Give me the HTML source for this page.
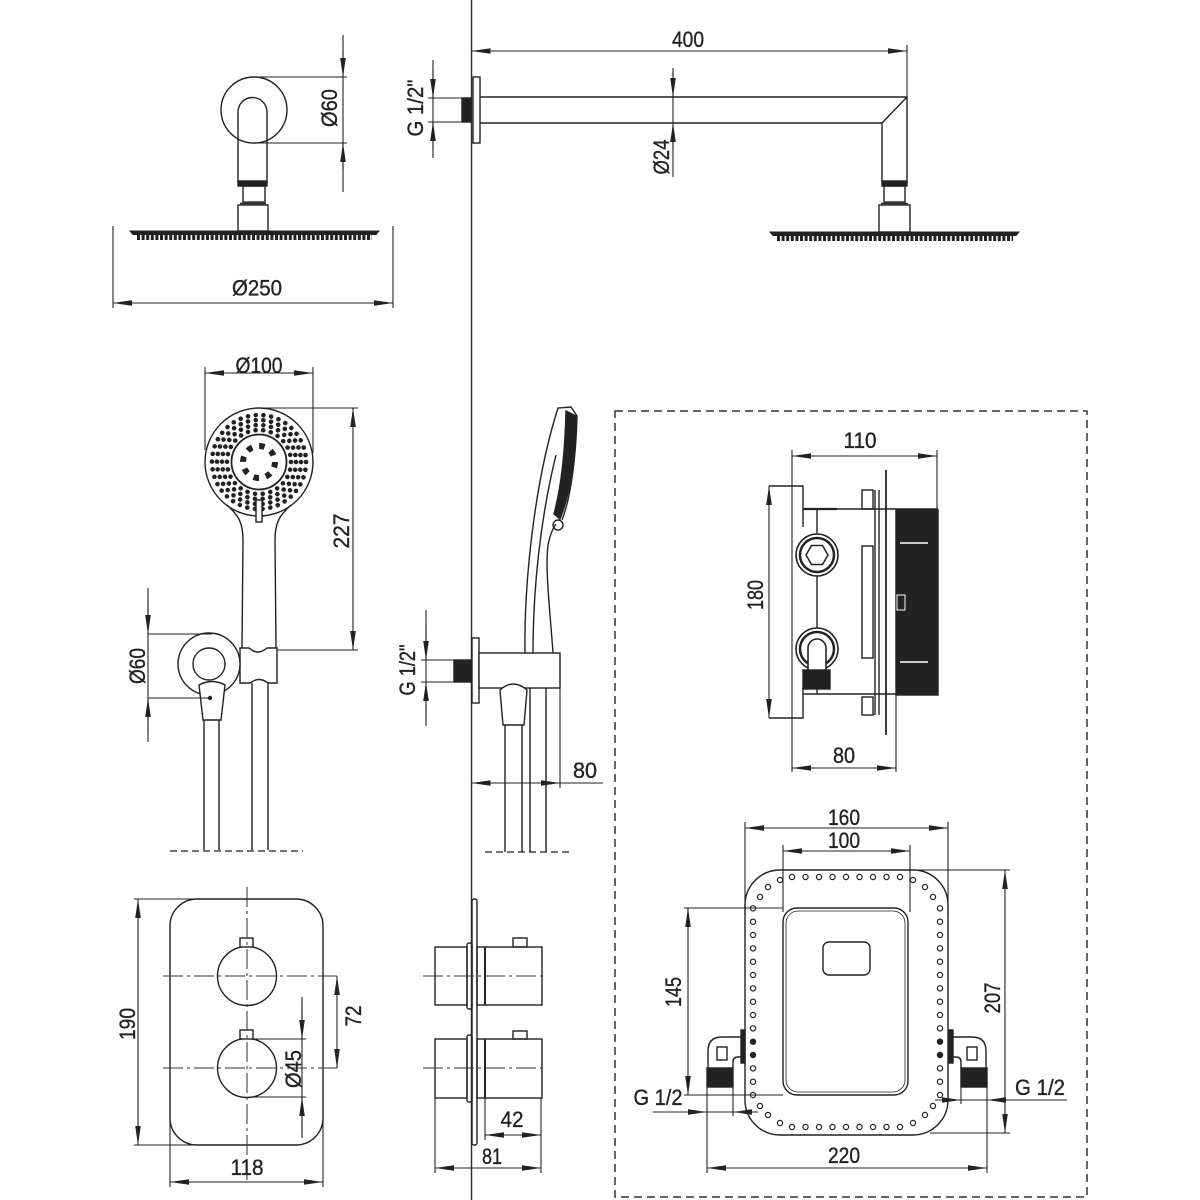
<!DOCTYPE html>
<html><head><meta charset="utf-8"><style>
html,body{margin:0;padding:0;background:#fff;}
svg{display:block}
text{font-family:"Liberation Sans Narrow","Liberation Sans",sans-serif;font-size:22px;fill:#222;stroke:#222;stroke-width:0.35px;}
</style></head><body>
<svg width="1200" height="1200" viewBox="0 0 1200 1200" xmlns="http://www.w3.org/2000/svg">
<defs>
<marker id="a" viewBox="-19 -3 19 6" refX="0" refY="0" markerWidth="19" markerHeight="6" markerUnits="userSpaceOnUse" orient="auto-start-reverse"><path d="M0,0 L-19,-2.8 L-19,2.8 Z" fill="#222"/></marker>
</defs>
<rect width="1200" height="1200" fill="#fff"/>

<!-- wall line -->
<line x1="471.5" y1="0" x2="471.5" y2="1200" stroke="#333" stroke-width="1.5"/>

<!-- dashed box -->
<rect x="615" y="411" width="472" height="786" fill="none" stroke="#333" stroke-width="1.5" stroke-dasharray="8 5"/>

<g fill="none" stroke="#222" stroke-width="1.4">
<!-- ===== top-left rain shower front ===== -->
<circle cx="254" cy="110" r="33"/>
<path d="M238,183 V112 A14.5,14.5 0 0 1 267,112 V183"/>
<rect x="238" y="181" width="29" height="5" fill="#222"/>
<rect x="243" y="186" width="22" height="16"/>
<line x1="240" y1="203.5" x2="266" y2="203.5"/>
<rect x="238" y="205" width="30" height="26"/>
<path d="M130,231 L379,231 L376,234.5 L133,234.5 Z" fill="#222" stroke-width="1"/>
<line x1="137" y1="237.5" x2="372" y2="237.5" stroke-width="5" stroke-dasharray="3 1.6"/>

<!-- ===== top-right rain shower side ===== -->
<rect x="473" y="77" width="7" height="66"/>
<rect x="462" y="98" width="9" height="24" fill="#222"/>
<path d="M480,97 H907 V183 M480,123 H882 L907,97 M882,123 V183"/>
<rect x="882" y="181" width="25" height="5" fill="#222"/>
<rect x="884" y="186" width="21" height="16"/>
<line x1="881" y1="203.5" x2="908" y2="203.5"/>
<rect x="879" y="205" width="31" height="27"/>
<path d="M770,232 L1019,232 L1016,235.5 L773,235.5 Z" fill="#222" stroke-width="1"/>
<line x1="777" y1="238.5" x2="1013" y2="238.5" stroke-width="5" stroke-dasharray="3 1.6"/>

<!-- ===== hand shower front ===== -->
<circle cx="259" cy="462" r="54"/>
<circle cx="259" cy="462" r="47" stroke-width="4.6" stroke-linecap="round" stroke-dasharray="0.01 7.77"/>
<circle cx="259" cy="462" r="42" stroke-width="4.6" stroke-linecap="round" stroke-dasharray="0.01 7.76"/>
<circle cx="259" cy="462" r="37" stroke-width="4.6" stroke-linecap="round" stroke-dasharray="0.01 7.75"/>
<circle cx="259" cy="462" r="32" stroke-width="4.6" stroke-linecap="round" stroke-dasharray="0.01 7.73"/>
<circle cx="259" cy="462" r="27.5" stroke-width="1.8"/>
<circle cx="259" cy="462" r="16" stroke-width="6" stroke-dasharray="5.5 7.07"/>
<path d="M227,505 C238,515 243,522 243,540 L242,648"/>
<path d="M291,505 C280,515 275,522 275,540 L276,648"/>
<rect x="256" y="500" width="6" height="22" fill="#fff"/>
<path d="M240,648 H249 Q258,656 267,648 H277 V683 H268 Q259,676 250,683 H240 Z" fill="#fff"/>
<circle cx="209" cy="664" r="31" fill="#fff"/>
<circle cx="209" cy="664" r="16"/>
<path d="M199,685 Q212,678 225,685 L221,720 H203 Z" fill="#fff"/>
<circle cx="210" cy="698" r="1.5" fill="#222"/>
<path d="M204,720 V850 M219,720 V850 M252,683 V850 M268,683 V850"/>
<line x1="170" y1="851" x2="303" y2="851" stroke-width="1.3" stroke-dasharray="7 4"/>
<rect x="454" y="660" width="18" height="22" fill="#222"/>

<!-- ===== hand shower side ===== -->
<path d="M525,653 C524,580 535,480 558,408 L571,407 L577,416 C576,460 570,500 562,520"/>
<path d="M533,653 C533,590 540,520 556,455"/>
<path d="M553,653 C550,610 545,570 548,545 C550,535 553,528 556,524"/>
<path d="M566,411 L576,416 C575,460 570,495 560,519 L554,514 C561,488 565,455 566,411 Z" fill="#222"/>
<circle cx="558" cy="525" r="5"/>
<rect x="472" y="638" width="7" height="65" fill="#fff"/>
<rect x="479" y="653" width="81" height="35" fill="#fff"/>
<path d="M500,690 Q513,678 527,690 L524,725 H503 Z" fill="#fff"/>
<path d="M505,725 V852 M522,725 V852 M530,688 V852 M546,688 V852"/>
<line x1="485" y1="852" x2="570" y2="852" stroke-width="1.3" stroke-dasharray="7 4"/>

<!-- ===== mixing box side ===== -->
<path d="M769,486 H803 V527 M769,718 H803 V687"/>
<line x1="803" y1="509" x2="837" y2="509" stroke-width="2.2"/>
<line x1="837" y1="509" x2="938" y2="509"/>
<line x1="803" y1="694" x2="938" y2="694"/>
<line x1="817" y1="509" x2="817" y2="694"/>
<circle cx="817" cy="555" r="21" fill="#fff" stroke-width="1.6"/>
<circle cx="817" cy="555" r="17" stroke-width="2.5"/>
<polygon points="828,555 822.5,564.5 811.5,564.5 806,555 811.5,545.5 822.5,545.5" stroke-width="1.5"/>
<circle cx="817" cy="649" r="21" fill="#fff" stroke-width="1.6"/>
<circle cx="817" cy="649" r="17" stroke-width="2.5"/>
<path d="M808,672 V648 A9,9 0 0 1 826,648 V672" fill="#fff" stroke-width="1.6"/>
<rect x="803" y="670" width="27" height="19" fill="#222"/>
<rect x="862" y="546" width="11" height="112"/>
<rect x="862" y="490" width="11" height="19"/>
<rect x="862" y="697" width="11" height="18"/>
<path d="M875,490 V715 M879,490 V715"/>
<line x1="886" y1="470" x2="886" y2="735" stroke-width="1.8"/>
<rect x="896" y="510" width="42" height="185" fill="#222"/>
<path d="M900,543 H928 M900,662 H928" stroke="#fff" stroke-width="1.5"/>
<rect x="897" y="595" width="8" height="15" stroke="#fff" stroke-width="1"/>

<!-- ===== mixing box front ===== -->
<rect x="745" y="870" width="203" height="265" rx="35"/>
<rect x="783" y="908" width="125" height="187" rx="14" fill="#fff"/>
<rect x="786" y="911" width="119" height="181" rx="12" stroke-width="0.8"/>
<rect x="823" y="942" width="47" height="33" rx="6"/>
<path d="M743,1037 H722 Q708,1037 708,1051 V1068 M733,1068 V1062 Q733,1057 738,1057 H743"/>
<rect x="707" y="1068" width="26" height="19" fill="#222"/>
<rect x="717" y="1047" width="10" height="13"/>
<rect x="741" y="1030" width="4" height="33" fill="#222"/>
<path d="M951,1037 H972 Q986,1037 986,1051 V1068 M961,1068 V1062 Q961,1057 956,1057 H951"/>
<rect x="961" y="1068" width="26" height="19" fill="#222"/>
<rect x="967" y="1047" width="10" height="13"/>
<rect x="949" y="1030" width="4" height="33" fill="#222"/>
<g stroke-width="1.2">
<circle cx="792" cy="877" r="2.6"/><circle cx="805.5" cy="877" r="2.6"/><circle cx="819" cy="877" r="2.6"/><circle cx="832.5" cy="877" r="2.6"/><circle cx="846" cy="877" r="2.6"/><circle cx="859.5" cy="877" r="2.6"/><circle cx="873" cy="877" r="2.6"/><circle cx="886.5" cy="877" r="2.6"/><circle cx="900" cy="877" r="2.6"/>
<circle cx="792" cy="1127" r="2.6"/><circle cx="805.5" cy="1127" r="2.6"/><circle cx="819" cy="1127" r="2.6"/><circle cx="832.5" cy="1127" r="2.6"/><circle cx="846" cy="1127" r="2.6"/><circle cx="859.5" cy="1127" r="2.6"/><circle cx="873" cy="1127" r="2.6"/><circle cx="886.5" cy="1127" r="2.6"/><circle cx="900" cy="1127" r="2.6"/>
<circle cx="780" cy="880" r="2.6"/><circle cx="768" cy="887" r="2.6"/><circle cx="760" cy="897" r="2.6"/>
<circle cx="913" cy="880" r="2.6"/><circle cx="925" cy="887" r="2.6"/><circle cx="933" cy="897" r="2.6"/>
<circle cx="760" cy="1106" r="2.6"/><circle cx="768" cy="1115" r="2.6"/><circle cx="780" cy="1123" r="2.6"/>
<circle cx="933" cy="1106" r="2.6"/><circle cx="925" cy="1115" r="2.6"/><circle cx="913" cy="1123" r="2.6"/>
<circle cx="753" cy="908.3" r="2.6"/><circle cx="753" cy="921.7" r="2.6"/><circle cx="753" cy="935" r="2.6"/><circle cx="753" cy="948.3" r="2.6"/><circle cx="753" cy="961.7" r="2.6"/><circle cx="753" cy="975" r="2.6"/><circle cx="753" cy="988.3" r="2.6"/><circle cx="753" cy="1001.7" r="2.6"/><circle cx="753" cy="1015" r="2.6"/><circle cx="753" cy="1028.3" r="2.6"/><circle cx="753" cy="1041.7" r="2.6" fill="#222"/><circle cx="753" cy="1055" r="2.6" fill="#222"/><circle cx="753" cy="1068.3" r="2.6"/><circle cx="753" cy="1081.7" r="2.6"/><circle cx="753" cy="1095" r="2.6"/>
<circle cx="940" cy="908.3" r="2.6"/><circle cx="940" cy="921.7" r="2.6"/><circle cx="940" cy="935" r="2.6"/><circle cx="940" cy="948.3" r="2.6"/><circle cx="940" cy="961.7" r="2.6"/><circle cx="940" cy="975" r="2.6"/><circle cx="940" cy="988.3" r="2.6"/><circle cx="940" cy="1001.7" r="2.6"/><circle cx="940" cy="1015" r="2.6"/><circle cx="940" cy="1028.3" r="2.6"/><circle cx="940" cy="1041.7" r="2.6" fill="#222"/><circle cx="940" cy="1055" r="2.6" fill="#222"/><circle cx="940" cy="1068.3" r="2.6"/><circle cx="940" cy="1081.7" r="2.6"/><circle cx="940" cy="1095" r="2.6"/>
</g>

<!-- ===== thermostat front ===== -->
<rect x="170" y="899" width="153" height="246" rx="27"/>
<circle cx="247" cy="976" r="29.5" fill="#fff"/>
<circle cx="247" cy="1068" r="29.5" fill="#fff"/>
<rect x="240" y="938" width="13" height="9" fill="#fff"/>
<rect x="240" y="1030" width="13" height="9" fill="#fff"/>

<!-- ===== thermostat side ===== -->
<rect x="472" y="899" width="5" height="246" rx="2"/>
<rect x="435" y="947" width="32" height="58"/>
<rect x="467" y="943" width="5" height="66" rx="2"/>
<rect x="477" y="947" width="65" height="58"/>
<line x1="485" y1="947" x2="485" y2="1005" stroke-width="2"/>
<rect x="513" y="938" width="14" height="9"/>
<rect x="435" y="1039" width="32" height="59"/>
<rect x="467" y="1035" width="5" height="67" rx="2"/>
<rect x="477" y="1039" width="65" height="59"/>
<line x1="485" y1="1039" x2="485" y2="1098" stroke-width="2"/>
<rect x="513" y="1031" width="14" height="8"/>
</g>

<!-- center lines -->
<g stroke="#333" stroke-width="1" stroke-dasharray="20 4 3 4" fill="none">
<line x1="163" y1="976" x2="337" y2="976"/>
<line x1="163" y1="1068" x2="337" y2="1068"/>
<line x1="247" y1="887" x2="247" y2="1180"/>
<line x1="423" y1="976" x2="545" y2="976"/>
<line x1="423" y1="1068" x2="545" y2="1068"/>
</g>

<!-- ===== dimension lines ===== -->
<g stroke="#222" stroke-width="1.1" fill="none">
<line x1="113" y1="226" x2="113" y2="308"/><line x1="393" y1="226" x2="393" y2="308"/>
<line x1="113" y1="303" x2="393" y2="303" marker-start="url(#a)" marker-end="url(#a)"/>
<line x1="254" y1="77" x2="347" y2="77"/><line x1="258" y1="143" x2="347" y2="143"/>
<line x1="343" y1="35" x2="343" y2="192"/>
<line x1="343" y1="50" x2="343" y2="77" marker-end="url(#a)"/>
<line x1="343" y1="170" x2="343" y2="143" marker-end="url(#a)"/>
<line x1="428" y1="98" x2="462" y2="98"/><line x1="428" y1="122" x2="462" y2="122"/>
<line x1="433" y1="60" x2="433" y2="158"/>
<line x1="433" y1="70" x2="433" y2="98" marker-end="url(#a)"/>
<line x1="433" y1="150" x2="433" y2="122" marker-end="url(#a)"/>
<line x1="907" y1="45" x2="907" y2="97"/>
<line x1="471.5" y1="51" x2="907" y2="51" marker-start="url(#a)" marker-end="url(#a)"/>
<line x1="673" y1="68" x2="673" y2="177"/>
<line x1="673" y1="72" x2="673" y2="97" marker-end="url(#a)"/>
<line x1="673" y1="150" x2="673" y2="123" marker-end="url(#a)"/>
<line x1="205" y1="367" x2="205" y2="450"/><line x1="313" y1="367" x2="313" y2="453"/>
<line x1="205" y1="373" x2="313" y2="373" marker-start="url(#a)" marker-end="url(#a)"/>
<line x1="259" y1="408" x2="358" y2="408"/><line x1="277" y1="650" x2="358" y2="650"/>
<line x1="353" y1="408" x2="353" y2="650" marker-start="url(#a)" marker-end="url(#a)"/>
<line x1="148" y1="634" x2="212" y2="634"/><line x1="148" y1="698" x2="210" y2="698"/>
<line x1="148" y1="588" x2="148" y2="742"/>
<line x1="148" y1="600" x2="148" y2="634" marker-end="url(#a)"/>
<line x1="148" y1="732" x2="148" y2="698" marker-end="url(#a)"/>
<line x1="421" y1="660" x2="454" y2="660"/><line x1="421" y1="682" x2="454" y2="682"/>
<line x1="426" y1="610" x2="426" y2="726"/>
<line x1="426" y1="625" x2="426" y2="660" marker-end="url(#a)"/>
<line x1="426" y1="716" x2="426" y2="682" marker-end="url(#a)"/>
<line x1="560" y1="688" x2="560" y2="788"/>
<line x1="471.5" y1="783" x2="560" y2="783" marker-start="url(#a)" marker-end="url(#a)"/>
<line x1="560" y1="783" x2="603" y2="783"/>
<line x1="792" y1="450" x2="792" y2="772"/><line x1="937" y1="450" x2="937" y2="510"/>
<line x1="792" y1="456" x2="937" y2="456" marker-start="url(#a)" marker-end="url(#a)"/>
<line x1="769" y1="486" x2="769" y2="718" marker-start="url(#a)" marker-end="url(#a)"/>
<line x1="896" y1="695" x2="896" y2="772"/>
<line x1="792" y1="768" x2="896" y2="768" marker-start="url(#a)" marker-end="url(#a)"/>
<line x1="745" y1="822" x2="745" y2="915"/><line x1="948" y1="822" x2="948" y2="915"/>
<line x1="745" y1="828" x2="948" y2="828" marker-start="url(#a)" marker-end="url(#a)"/>
<line x1="783" y1="845" x2="783" y2="912"/><line x1="910" y1="845" x2="910" y2="912"/>
<line x1="783" y1="851" x2="910" y2="851" marker-start="url(#a)" marker-end="url(#a)"/>
<line x1="684" y1="908" x2="783" y2="908"/><line x1="684" y1="1095" x2="783" y2="1095"/>
<line x1="688" y1="908" x2="688" y2="1095" marker-start="url(#a)" marker-end="url(#a)"/>
<line x1="900" y1="870" x2="1010" y2="870"/><line x1="930" y1="1133" x2="1010" y2="1133"/>
<line x1="1005" y1="870" x2="1005" y2="1133" marker-start="url(#a)" marker-end="url(#a)"/>
<line x1="707" y1="1087" x2="707" y2="1173"/><line x1="987" y1="1087" x2="987" y2="1173"/>
<line x1="707" y1="1168" x2="987" y2="1168" marker-start="url(#a)" marker-end="url(#a)"/>
<line x1="733" y1="1087" x2="733" y2="1116"/>
<line x1="653" y1="1112" x2="707" y2="1112" marker-end="url(#a)"/>
<line x1="707" y1="1112" x2="733" y2="1112"/>
<line x1="758" y1="1112" x2="733" y2="1112" marker-end="url(#a)"/>
<line x1="961" y1="1087" x2="961" y2="1104"/>
<line x1="935" y1="1100" x2="961" y2="1100" marker-end="url(#a)"/>
<line x1="961" y1="1100" x2="987" y2="1100"/>
<line x1="1067" y1="1100" x2="987" y2="1100" marker-end="url(#a)"/>
<line x1="134" y1="899" x2="198" y2="899"/><line x1="134" y1="1145" x2="198" y2="1145"/>
<line x1="138" y1="899" x2="138" y2="1145" marker-start="url(#a)" marker-end="url(#a)"/>
<line x1="170" y1="1120" x2="170" y2="1187"/><line x1="323" y1="1120" x2="323" y2="1187"/>
<line x1="170" y1="1182" x2="323" y2="1182" marker-start="url(#a)" marker-end="url(#a)"/>
<line x1="337" y1="976" x2="337" y2="1068" marker-start="url(#a)" marker-end="url(#a)"/>
<line x1="249" y1="1039" x2="306" y2="1039"/><line x1="249" y1="1097" x2="306" y2="1097"/>
<line x1="302" y1="997" x2="302" y2="1138"/>
<line x1="302" y1="1005" x2="302" y2="1039" marker-end="url(#a)"/>
<line x1="302" y1="1132" x2="302" y2="1097" marker-end="url(#a)"/>
<line x1="485" y1="1098" x2="485" y2="1140"/>
<line x1="541" y1="1098" x2="541" y2="1173"/>
<line x1="435" y1="1098" x2="435" y2="1173"/>
<line x1="485" y1="1135" x2="541" y2="1135" marker-start="url(#a)" marker-end="url(#a)"/>
<line x1="435" y1="1168" x2="541" y2="1168" marker-start="url(#a)" marker-end="url(#a)"/>
</g>

<!-- ===== labels ===== -->
<text x="329" y="116" text-anchor="middle" textLength="38" lengthAdjust="spacingAndGlyphs" transform="rotate(-90 329 108)">Ø60</text>
<text x="257" y="295.5" text-anchor="middle" textLength="50" lengthAdjust="spacingAndGlyphs">Ø250</text>
<text x="415" y="116" text-anchor="middle" textLength="57" lengthAdjust="spacingAndGlyphs" transform="rotate(-90 415 108)">G 1/2"</text>
<text x="688" y="47" text-anchor="middle" textLength="32" lengthAdjust="spacingAndGlyphs">400</text>
<text x="661" y="165" text-anchor="middle" textLength="35" lengthAdjust="spacingAndGlyphs" transform="rotate(-90 661 157)">Ø24</text>
<text x="259" y="373" text-anchor="middle" textLength="47" lengthAdjust="spacingAndGlyphs">Ø100</text>
<text x="341" y="539" text-anchor="middle" textLength="35" lengthAdjust="spacingAndGlyphs" transform="rotate(-90 341 531)">227</text>
<text x="137" y="674" text-anchor="middle" textLength="36" lengthAdjust="spacingAndGlyphs" transform="rotate(-90 137 666)">Ø60</text>
<text x="407" y="678" text-anchor="middle" textLength="51" lengthAdjust="spacingAndGlyphs" transform="rotate(-90 407 670)">G 1/2"</text>
<text x="585" y="778" text-anchor="middle" textLength="24" lengthAdjust="spacingAndGlyphs">80</text>
<text x="860" y="448" text-anchor="middle" textLength="33" lengthAdjust="spacingAndGlyphs">110</text>
<text x="755" y="603" text-anchor="middle" textLength="30" lengthAdjust="spacingAndGlyphs" transform="rotate(-90 755 595)">180</text>
<text x="844" y="763" text-anchor="middle" textLength="22" lengthAdjust="spacingAndGlyphs">80</text>
<text x="844" y="825" text-anchor="middle" textLength="32" lengthAdjust="spacingAndGlyphs">160</text>
<text x="844" y="848" text-anchor="middle" textLength="32" lengthAdjust="spacingAndGlyphs">100</text>
<text x="673" y="1000" text-anchor="middle" textLength="30" lengthAdjust="spacingAndGlyphs" transform="rotate(-90 673 992)">145</text>
<text x="992" y="1006" text-anchor="middle" textLength="31" lengthAdjust="spacingAndGlyphs" transform="rotate(-90 992 998)">207</text>
<text x="658" y="1105" text-anchor="middle" textLength="49" lengthAdjust="spacingAndGlyphs">G 1/2</text>
<text x="1040" y="1095" text-anchor="middle" textLength="50" lengthAdjust="spacingAndGlyphs">G 1/2</text>
<text x="844" y="1163" text-anchor="middle" textLength="32" lengthAdjust="spacingAndGlyphs">220</text>
<text x="127" y="1032" text-anchor="middle" textLength="32" lengthAdjust="spacingAndGlyphs" transform="rotate(-90 127 1024)">190</text>
<text x="353" y="1024" text-anchor="middle" textLength="21" lengthAdjust="spacingAndGlyphs" transform="rotate(-90 353 1016)">72</text>
<text x="293" y="1077" text-anchor="middle" textLength="38" lengthAdjust="spacingAndGlyphs" transform="rotate(-90 293 1069)">Ø45</text>
<text x="247" y="1175" text-anchor="middle" textLength="33" lengthAdjust="spacingAndGlyphs">118</text>
<text x="512" y="1127" text-anchor="middle" textLength="23" lengthAdjust="spacingAndGlyphs">42</text>
<text x="492" y="1164" text-anchor="middle" textLength="20" lengthAdjust="spacingAndGlyphs">81</text>
</svg>
</body></html>
